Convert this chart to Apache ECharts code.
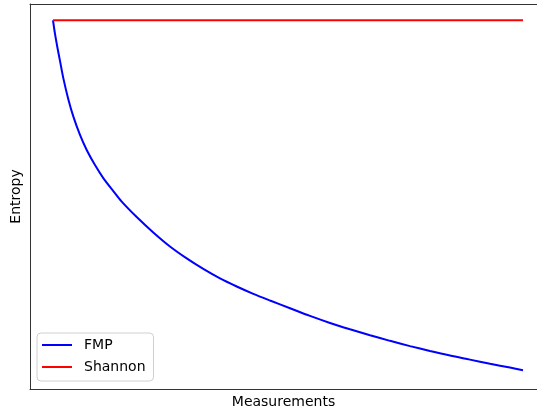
<!DOCTYPE html>
<html>
<head>
<meta charset="utf-8">
<script src="https://cdn.jsdelivr.net/npm/echarts@6/dist/echarts.min.js"></script>
<style>
  html, body { margin: 0; padding: 0; background: #fff; }
  #chart { width: 537px; height: 410px; }
</style>
</head>
<body>
<div id="chart"></div>
<script>
// Measurement progress (0–100) and normalised entropy values
const measurements = [0, 0.426, 0.957, 1.489, 2.191, 3.255, 4.319, 5.745, 7.170, 8.936, 10.70, 12.83, 14.62, 17.81, 21.34, 24.89, 28.45, 31.98, 35.53, 39.09, 42.62, 46.17, 50.43, 54.68, 58.94, 63.19, 67.45, 71.70, 75.96, 80.21, 84.47, 88.72, 92.98, 97.23, 100];
const fmpEntropy = [1.0, 0.961, 0.921, 0.884, 0.835, 0.775, 0.726, 0.673, 0.630, 0.587, 0.550, 0.513, 0.483, 0.439, 0.395, 0.355, 0.321, 0.291, 0.264, 0.241, 0.220, 0.201, 0.179, 0.157, 0.137, 0.119, 0.102, 0.086, 0.071, 0.057, 0.044, 0.0325, 0.0208, 0.0097, 0.002];
const shannonX = [0, 100];
const shannonEntropy = [1.0, 1.0];
const seriesNames = ['FMP', 'Shannon'];

const chart = echarts.init(document.getElementById('chart'), null, { renderer: 'canvas' });

const font = "'DejaVu Sans', sans-serif";
const spine = { show: true, onZero: false, lineStyle: { color: '#333', width: 1 } };

chart.setOption({
  animation: false,
  backgroundColor: '#fff',
  grid: { left: 30, top: 4, width: 507, height: 385, show: false, outerBoundsMode: 'none', containLabel: false },
  xAxis: [
    {
      type: 'value', min: -4.894, max: 102.98,
      name: 'Measurements', nameLocation: 'middle', nameGap: 6,
      nameTextStyle: { fontFamily: font, fontSize: 14, color: '#000', verticalAlign: 'top' },
      axisLine: spine, axisTick: { show: false }, axisLabel: { show: false },
      splitLine: { show: false }
    },
    {
      type: 'value', position: 'top', min: -4.894, max: 102.98,
      axisLine: spine, axisTick: { show: false }, axisLabel: { show: false },
      splitLine: { show: false }
    }
  ],
  yAxis: {
    type: 'value', min: -0.0513, max: 1.0463,
    name: 'Entropy', nameLocation: 'middle', nameGap: 7,
    nameTextStyle: { fontFamily: font, fontSize: 14, color: '#000' },
    axisLine: spine, axisTick: { show: false }, axisLabel: { show: false },
    splitLine: { show: false }
  },
  legend: {
    orient: 'vertical', left: 37, top: 333,
    backgroundColor: '#fff', borderColor: '#d0d0d0', borderWidth: 1, borderRadius: 4,
    padding: [5, 8, 7, 5],
    itemWidth: 30, itemHeight: 2, itemGap: 8, icon: 'rect',
    textStyle: { fontFamily: font, fontSize: 14, color: '#000', padding: [0, 0, 0, 7] },
    data: seriesNames
  },
  series: [
    {
      name: seriesNames[0], type: 'line', symbol: 'none', smooth: 0.3,
      itemStyle: { color: '#0000ff' },
      lineStyle: { color: '#0000ff', width: 2 },
      data: measurements.map((m, i) => [m, fmpEntropy[i]])
    },
    {
      name: seriesNames[1], type: 'line', symbol: 'none',
      itemStyle: { color: '#ff0000' },
      lineStyle: { color: '#ff0000', width: 2 },
      data: shannonX.map((m, i) => [m, shannonEntropy[i]])
    }
  ]
});
</script>
</body>
</html>
